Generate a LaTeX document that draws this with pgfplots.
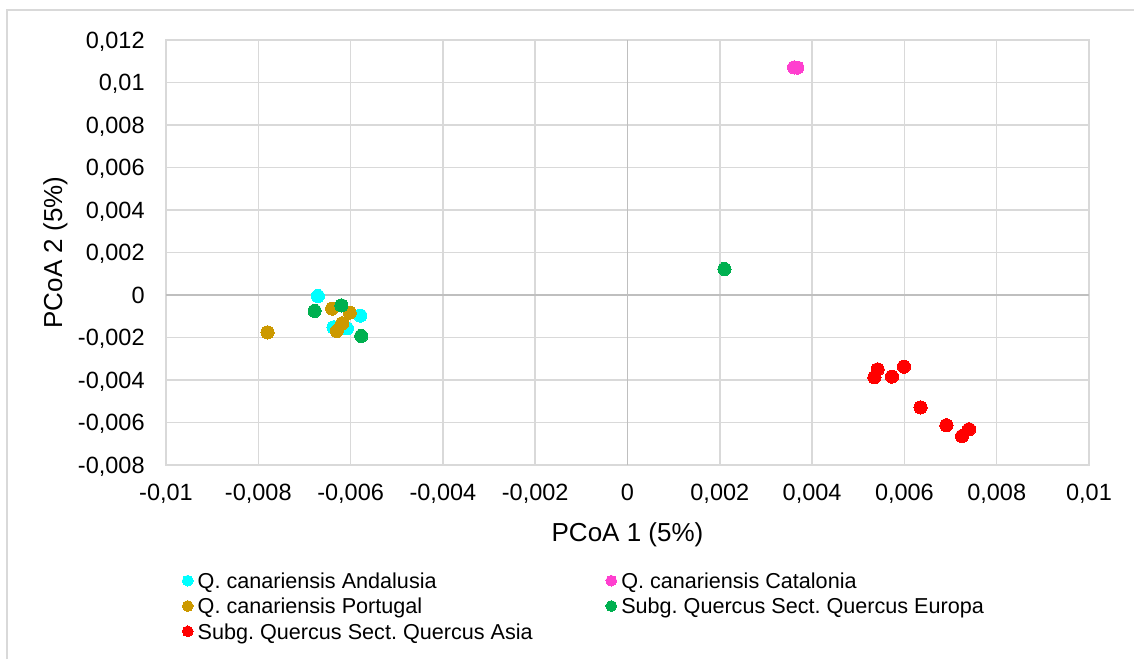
\documentclass[border=0pt]{standalone}
\usepackage{fontspec}
\setmainfont{Liberation Sans}
\usepackage{pgfplots}
\pgfplotsset{compat=1.18}
\frenchspacing
\definecolor{gridgray}{HTML}{D9D9D9}
\definecolor{zerogray}{HTML}{BFBFBF}
\definecolor{cAnd}{HTML}{00FFFF}
\definecolor{cCat}{HTML}{FF3FCF}
\definecolor{cPor}{HTML}{CC9900}
\definecolor{cEur}{HTML}{00B050}
\definecolor{cAsi}{HTML}{FF0000}
\begin{document}
\frenchspacing
\begin{tikzpicture}
\path[use as bounding box] (0pt,0pt) rectangle (567pt,329.5pt);
\draw[gridgray, line width=0.75pt] (3.5pt,0pt) -- (3.5pt,324.5pt) -- (567pt,324.5pt);
\begin{axis}[
  at={(83pt,97pt)}, anchor=south west,
  scale only axis, width=461.5pt, height=212.5pt,
  xmin=-0.01, xmax=0.01, ymin=-0.008, ymax=0.012,
  scaled ticks=false,
  xtick={-0.01,-0.008,-0.006,-0.004,-0.002,0,0.002,0.004,0.006,0.008,0.01},
  xticklabels={{-0,01},{-0,008},{-0,006},{-0,004},{-0,002},{0},{0,002},{0,004},{0,006},{0,008},{0,01}},
  ytick={-0.008,-0.006,-0.004,-0.002,0,0.002,0.004,0.006,0.008,0.01,0.012},
  yticklabels={{-0,008},{-0,006},{-0,004},{-0,002},{0},{0,002},{0,004},{0,006},{0,008},{0,01},{0,012}},
  major tick length=0pt,
  grid=major,
  major grid style={gridgray, line width=0.75pt},
  axis line style={gridgray, line width=0.75pt},
  tick label style={font=\fontsize{11.75pt}{14pt}\selectfont, inner sep=0pt},
  xticklabel style={anchor=base, yshift=-17.75pt},
  yticklabel style={anchor=base east, xshift=-10.5pt, yshift=-4.15pt},
  clip=false,
  legend columns=2,
  legend cell align=left,
  legend image code/.code={\draw[#1, mark size=2.7pt] plot coordinates {(0pt,0pt)};},
  legend style={
    at={(axis description cs:0.0177,-0.2541)}, anchor=north west,
    draw=none, fill=none, inner sep=0pt, outer sep=0pt,
    font=\fontsize{10.8pt}{12.8pt}\selectfont\frenchspacing,
    row sep=4.95pt, column sep=0pt,
    nodes={inner sep=0pt, outer sep=0pt, text height=7.7pt, text depth=0pt},
    /tikz/every odd column/.append style={column sep=2.3pt},
    /tikz/every even column/.append style={column sep=36.6pt},
  },
  every axis plot/.append style={only marks, mark=*, mark size=3.3pt, mark options={line width=0pt}},
]
\draw[zerogray, line width=0.75pt] (axis cs:0,-0.008) -- (axis cs:0,0.012);
\draw[zerogray, line width=0.75pt] (axis cs:-0.01,0) -- (axis cs:0.01,0);
\addplot[color=cAnd] coordinates {(-0.00671,-0.00005) (-0.00579,-0.00097) (-0.00637,-0.00152) (-0.00608,-0.00157)};
\addlegendentry{Q. canariensis Andalusia}
\addplot[color=cCat] coordinates {(0.00361,0.01071) (0.00368,0.01070)};
\addlegendentry{Q. canariensis Catalonia}
\addplot[color=cPor] coordinates {(-0.00640,-0.00064) (-0.00602,-0.00083) (-0.00618,-0.00133) (-0.00630,-0.00169) (-0.00780,-0.00176)};
\addlegendentry{Q. canariensis Portugal}
\addplot[color=cEur] coordinates {(-0.00678,-0.00075) (-0.00620,-0.00049) (-0.00577,-0.00193) (0.00210,0.00122)};
\addlegendentry{Subg. Quercus Sect. Quercus Europa}
\addplot[color=cAsi] coordinates {(0.00542,-0.00350) (0.00535,-0.00387) (0.00573,-0.00384) (0.00599,-0.00337) (0.00635,-0.00529) (0.00691,-0.00613) (0.00725,-0.00664) (0.00740,-0.00632)};
\addlegendentry{Subg. Quercus Sect. Quercus Asia}
\end{axis}
\node[anchor=base, inner sep=0pt, font=\fontsize{13pt}{15.6pt}\selectfont] at (313.75pt,58.65pt) {PCoA 1 (5\%)};
\node[rotate=90, anchor=base, inner sep=0pt, font=\fontsize{13pt}{15.6pt}\selectfont] at (31pt,203.25pt) {PCoA 2 (5\%)};
\end{tikzpicture}
\end{document}
